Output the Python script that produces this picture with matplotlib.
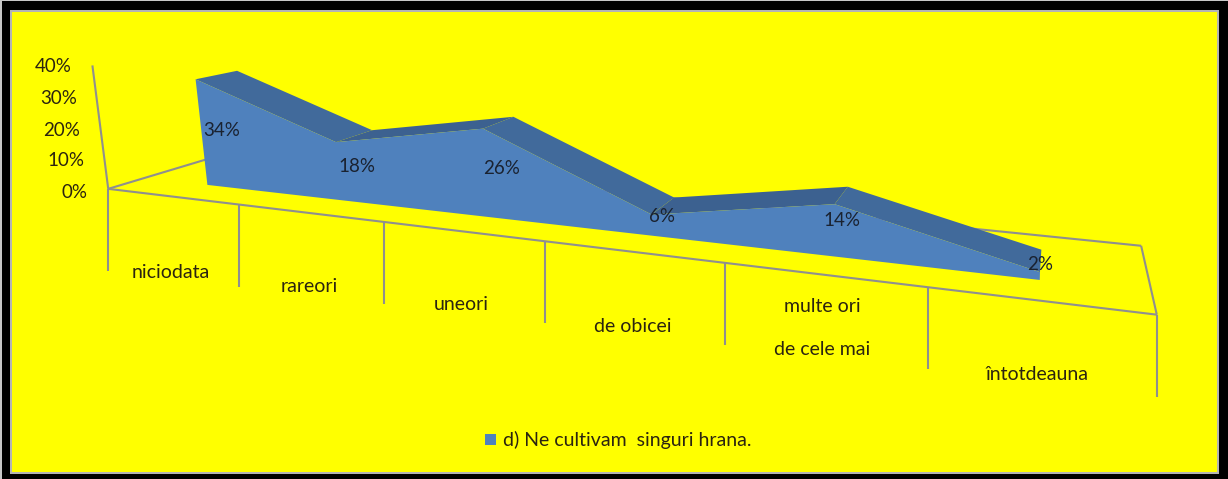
"""3-D style area chart, drawn with a small camera fitted to the chart frame."""
import matplotlib
matplotlib.use("Agg")
import matplotlib.pyplot as plt
import numpy as np
from matplotlib.patches import Rectangle

W, H = 1228, 479

categories = ["niciodata", "rareori", "uneori", "de obicei", "multe ori\nde cele mai", "întotdeauna"]
values = [0.34, 0.18, 0.26, 0.06, 0.14, 0.02]
value_ticks = [0.0, 0.1, 0.2, 0.3, 0.4]
legend_label = "d) Ne cultivam  singuri hrana."

# Layout: frame points (category, value, depth) -> pixel, used to fit the camera
FRAME = [
    ((0, 0, 0), (108, 190)), ((1, 0, 0), (240, 205)), ((2, 0, 0), (384, 222)),
    ((3, 0, 0), (545, 241)), ((4, 0, 0), (725, 263)), ((5, 0, 0), (928, 286)),
    ((6, 0, 0), (1157, 314)), ((0, 0.4, 0), (92, 62)), ((0, 0, 1), (228, 152)),
    ((6, 0, 1), (1141, 247)), ((6, 0.4, 0), (1165, 140)),
]
DEPTH_FRONT, DEPTH_BACK = 0.28, 0.63
LINE = "#8f8f8f"
FRONT = "#4f81bd"
TOP_DOWN = "#416a9b"
TOP_UP = "#3c6190"
TEXT = "#2b2410"

plt.rcParams["font.family"] = ["Lato", "DejaVu Sans"]


def fit_camera(pairs):
    rows = []
    for (c, v, d), (x, y) in pairs:
        p = [c, v * 10, d, 1]
        rows.append(p + [0, 0, 0, 0] + [-x / 1000 * q for q in p])
        rows.append([0, 0, 0, 0] + p + [-y / 1000 * q for q in p])
    return np.linalg.svd(np.array(rows, dtype=float))[2][-1].reshape(3, 4)


CAM = fit_camera(FRAME)


def project(c, v, d):
    u = CAM @ np.array([c, v * 10, d, 1.0])
    return u[0] / u[2] * 1000, u[1] / u[2] * 1000


def main():
    fig = plt.figure(figsize=(W / 100, H / 100), dpi=100)
    ax = fig.add_axes([0, 0, 1, 1])
    ax.set_xlim(0, W)
    ax.set_ylim(H, 0)
    ax.axis("off")

    # outer border
    ax.add_patch(Rectangle((0, 0), W, H, fc="#c8c8c8", ec="none"))
    ax.add_patch(Rectangle((2, 1), W - 2, H - 1, fc="black", ec="none"))
    ax.add_patch(Rectangle((10, 10), 1209, 464, fc="#b4b4b4", ec="none"))
    ax.add_patch(Rectangle((12, 12), 1205, 460, fc="#ffff00", ec="none"))

    def seg(p, q):
        a, b = project(*p), project(*q)
        ax.plot([a[0], b[0]], [a[1], b[1]], color=LINE, lw=1.5, solid_capstyle="butt", zorder=2)

    # walls and floor
    seg((0, 0, 0), (0, 0.39, 0))
    seg((0, 0, 0), (6, 0, 0))
    seg((0, 0, 0), (0, 0, 1))
    seg((0, 0, 1), (6, 0, 1))
    seg((6, 0, 1), (6, 0, 0))
    for i in range(len(categories) + 1):
        x, y = project(i, 0, 0)
        ax.plot([x, x], [y, y + 82], color=LINE, lw=1.5, solid_capstyle="butt", zorder=2)

    # area: top faces then front face
    pos = np.arange(len(values)) + 0.5
    for i in range(len(values) - 1):
        quad = [project(pos[i], values[i], DEPTH_FRONT), project(pos[i + 1], values[i + 1], DEPTH_FRONT),
                project(pos[i + 1], values[i + 1], DEPTH_BACK), project(pos[i], values[i], DEPTH_BACK)]
        col = TOP_DOWN if values[i + 1] < values[i] else TOP_UP
        ax.fill(*zip(*quad), color=col, lw=0, zorder=3)
    front = [project(p, v, DEPTH_FRONT) for p, v in zip(pos, values)]
    front += [project(pos[-1], 0, DEPTH_FRONT), project(pos[0], 0, DEPTH_FRONT)]
    ax.fill(*zip(*front), color=FRONT, lw=0, zorder=4)

    # value labels
    label_xy = [(222, 130), (357, 167), (502, 168), (662, 216), (842, 221), (1040, 264)]
    for v, (x, y) in zip(values, label_xy):
        ax.text(x, y, f"{v:.0%}", ha="center", va="center", fontsize=13.5, color="#1a2230", zorder=5)

    # axis labels
    tick_xy = [(88, 192), (84, 161), (80, 130), (77, 98), (72, 66)]
    for v, (x, y) in zip(value_ticks, tick_xy):
        ax.text(x, y, f"{v:.0%}", ha="right", va="center", fontsize=13.5, color=TEXT)
    cat_xy = [(171, 272), (309, 287), (461, 304), (633, 327), (822, 328), (1037, 374)]
    for name, (x, y) in zip(categories, cat_xy):
        ax.text(x, y, name, ha="center", va="center", fontsize=14, color=TEXT, linespacing=2.8)

    # legend
    ax.add_patch(Rectangle((485, 434), 11, 11, fc=FRONT, ec="none"))
    ax.text(503, 440, legend_label, ha="left", va="center", fontsize=14, color=TEXT)

    fig.savefig("out.png", dpi=100)


if __name__ == "__main__":
    main()
